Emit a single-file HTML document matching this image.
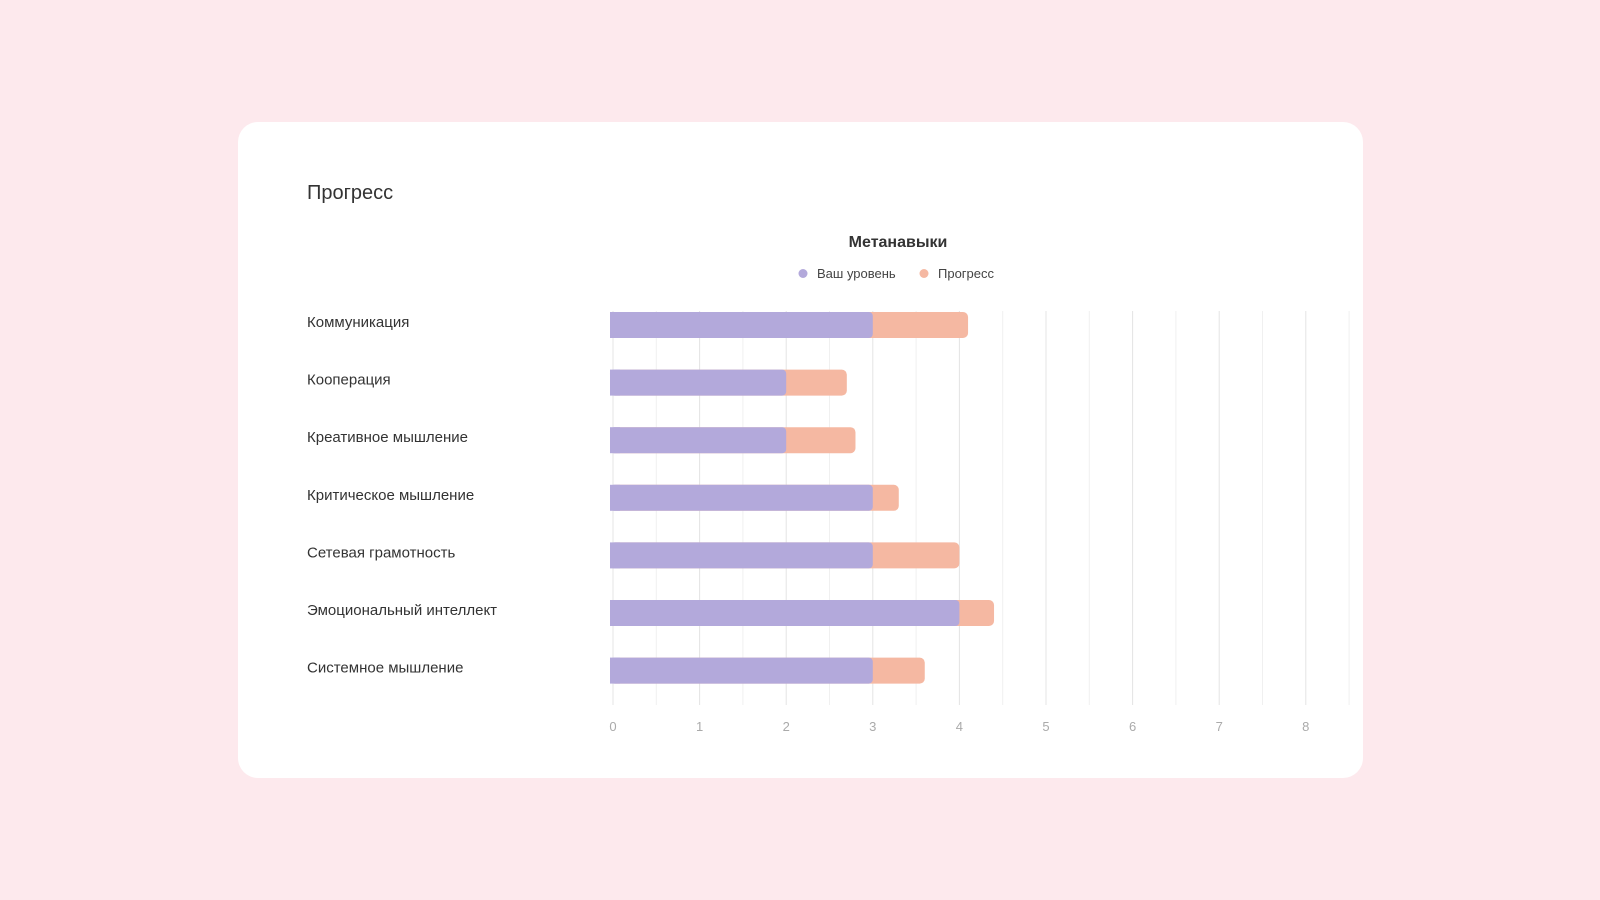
<!DOCTYPE html>
<html><head><meta charset="utf-8"><style>
body{margin:0;width:1600px;height:900px;background:#fde9ed;font-family:"Liberation Sans",sans-serif;overflow:hidden}
#card{position:absolute;left:238px;top:122px;width:1125px;height:656px;background:#fff;border-radius:20px}
</style></head><body>
<div id="card"></div>
<svg width="1600" height="900" style="position:absolute;left:0;top:0" id="chart">
<text x="307" y="199" font-size="20" fill="#333">Прогресс</text>
<text x="898" y="247" font-size="16" font-weight="bold" fill="#333" text-anchor="middle">Метанавыки</text>
<g>
<circle cx="803" cy="273.5" r="4.5" fill="#b3a9db"/>
<text x="817" y="278" font-size="13" fill="#444">Ваш уровень</text>
<circle cx="924" cy="273.5" r="4.5" fill="#f5b8a2"/>
<text x="938" y="278" font-size="13" fill="#444">Прогресс</text>
</g>
<g id="grid"></g><g id="bars"></g><g id="labels"></g>
</svg>
<script>
const categories=["Коммуникация","Кооперация","Креативное мышление","Критическое мышление","Сетевая грамотность","Эмоциональный интеллект","Системное мышление"];
const levelValues=[3,2,2,3,3,4,3];
const progressValues=[1.1,0.7,0.8,0.3,1.0,0.4,0.6];
const tickLabels=[0,1,2,3,4,5,6,7,8];
const NS="http://www.w3.org/2000/svg";
const x=v=>613+v*86.6;
const y=i=>325+i*57.6;
function mk(t,a,p){const e=document.createElementNS(NS,t);for(const k in a)e.setAttribute(k,a[k]);p.appendChild(e);return e;}
const grid=document.getElementById('grid'),bars=document.getElementById('bars'),labels=document.getElementById('labels');
for(let v=0;v<=8.5;v+=0.5){
 const l=mk('line',{x1:x(v),x2:x(v),y1:311,y2:705,stroke:Number.isInteger(v)?'#e4e4e4':'#f0f0f0','stroke-width':1},grid);
 
 
}
tickLabels.forEach(t=>{
 const e=mk('text',{x:x(t),y:731,'font-size':13,fill:'#aaa','text-anchor':'middle'},labels);
 e.textContent=t;
 
 
});
categories.forEach((c,i)=>{
 const cy=y(i),h=26;
 const t=mk('text',{x:307,y:cy+2,'font-size':15,fill:'#333'},labels);
 t.textContent=c;
 
 
 const tot=levelValues[i]+progressValues[i];
 const p=mk('rect',{x:x(0)-3,y:cy-13,width:x(tot)-x(0)+3,height:h,rx:5,fill:'#f5b8a2'},bars);
 
 
 const b=mk('rect',{x:x(0)-3,y:cy-13,width:x(levelValues[i])-x(0)+3,height:h,rx:4,fill:'#b3a9db'},bars);
 
 
 const b2=mk('rect',{x:x(0)-3,y:cy-13,width:10,height:h,fill:'#b3a9db'},bars);
 
 
});
</script>
</body></html>
